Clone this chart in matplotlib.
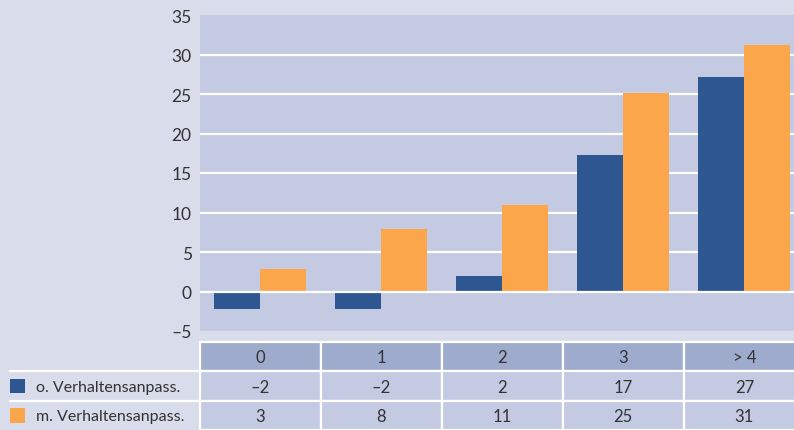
import numpy as np
import matplotlib
matplotlib.use("Agg")
import matplotlib.pyplot as plt
from matplotlib.patches import Rectangle
from matplotlib.transforms import blended_transform_factory

plt.rcParams["font.family"] = ["Lato", "DejaVu Sans"]

categories = ["0", "1", "2", "3", "> 4"]
series_names = ["o. Verhaltensanpass.", "m. Verhaltensanpass."]
without_adj = [-2.2, -2.2, 2.0, 17.3, 27.2]
with_adj = [2.9, 7.9, 10.9, 25.1, 31.2]
without_lbl = ["–2", "–2", "2", "17", "27"]
with_lbl = ["3", "8", "11", "25", "31"]
yticks = [-5, 0, 5, 10, 15, 20, 25, 30, 35]

BG, PLOT, HEAD = "#d9dcea", "#c5cae3", "#9eabcd"
BLUE, ORANGE, TXT = "#2e5792", "#fba64a", "#333333"
W, H = 794, 431

fig = plt.figure(figsize=(W / 100, H / 100), dpi=100, facecolor=BG)

# ---- bar chart ----
ax = fig.add_axes([200 / W, (H - 332) / H, 594 / W, 316 / H])
ax.set_facecolor(PLOT)
x = np.arange(len(categories))
bw = 0.38
ax.bar(x - bw / 2, without_adj, bw, color=BLUE, zorder=2)
ax.bar(x + bw / 2, with_adj, bw, color=ORANGE, zorder=2)
for v in yticks[1:-1]:
    ax.axhline(v, color="white", lw=1.6, zorder=1 if v else 3)
ax.set_xlim(-0.496, 4.41)
ax.set_ylim(-5, 35)
ax.set_yticks(yticks)
ax.set_yticklabels([str(v).replace("-", "–") for v in yticks])
ax.set_xticks([])
ax.tick_params(axis="y", length=0, pad=6, labelsize=12.5, labelcolor=TXT)
for s in ax.spines.values():
    s.set_visible(False)

# ---- data table ----
tax = fig.add_axes([200 / W, 0, 594 / W, 88 / H], sharex=ax)
tax.set_ylim(3, 0)
tax.axis("off")
rows = [categories, without_lbl, with_lbl]
for r, row in enumerate(rows):
    for i, lab in enumerate(row):
        tax.add_patch(Rectangle((i - 0.5, r), 1, 1, facecolor=HEAD if r == 0 else PLOT,
                                edgecolor="white", lw=1.6, clip_on=False))
        tax.text(i, r + 0.52, lab, ha="center", va="center", fontsize=12, color=TXT)

tr = blended_transform_factory(fig.transFigure, tax.transData)
for r in (1, 2):
    tax.plot([10 / W, 200 / W], [r, r], color="white", lw=1.6, transform=tr, clip_on=False)
for r, (name, col) in enumerate(zip(series_names, [BLUE, ORANGE]), start=1):
    tax.add_patch(Rectangle((10 / W, r + 0.25), 15 / W, 0.5, facecolor=col,
                            transform=tr, clip_on=False))
    tax.text(36 / W, r + 0.52, name, ha="left", va="center", fontsize=11.5,
             color=TXT, transform=tr)

fig.savefig("out.png", dpi=100, facecolor=BG)
